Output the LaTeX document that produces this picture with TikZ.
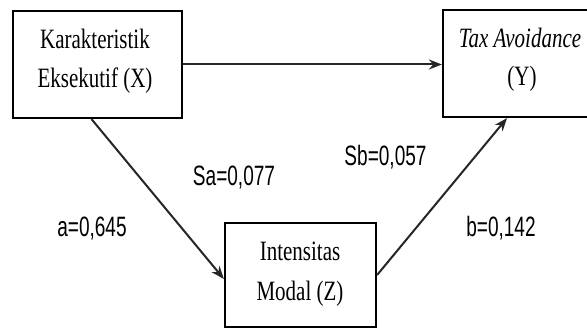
\documentclass[tikz,border=0pt]{standalone}
\usepackage{fontspec}
\setmainfont{Liberation Serif}[FakeStretch=0.75]
\newfontfamily\lblfont{Liberation Sans}[FakeStretch=0.68]
\usetikzlibrary{arrows.meta}
\tikzset{
  box/.style={draw=black, line width=2.2pt, rectangle, inner sep=0pt},
  boxtxt/.style={anchor=base, inner sep=0pt, font=\fontsize{28}{32}\selectfont},
  lbl/.style={anchor=base, inner sep=0pt, font=\lblfont\fontsize{28}{32}\selectfont},
  conn/.style={draw=black!85, line width=2pt, -{Stealth[length=13pt,width=10pt]}}
}
\begin{document}
\begin{tikzpicture}[x=1pt,y=-1pt]
\useasboundingbox (0,0) rectangle (587,329);
% boxes
\node[box, minimum width=169pt, minimum height=107pt] (X) at (97.5,64.5) {};
\node[box, minimum width=150pt, minimum height=107pt] (Y) at (518,63.5) {};
\node[box, minimum width=151pt, minimum height=104pt] (Z) at (300.5,275) {};
% box texts
\node[boxtxt] (X1) at (95,49) {Karakteristik};
\node[boxtxt] (X2) at (95,88) {Eksekutif (X)};
\node[boxtxt] (Y1) at (520,48) {\itshape Tax Avoidance};
\node[boxtxt] (Y2) at (522,86) {(Y)};
\node[boxtxt] (Z1) at (300,260) {Intensitas};
\node[boxtxt] (Z2) at (300,300) {Modal (Z)};
% connectors
\draw[conn] (X.east) -- (Y.west |- X.east);
\draw[conn] ([xshift=-6pt]X.south) -- ([yshift=-4pt]Z.west);
\draw[conn] (Z.east) -- ([xshift=-11pt]Y.south);
% labels
\node[lbl] (Sa) at (234,185) {Sa=0,077};
\node[lbl] (La) at (92,236) {a=0,645};
\node[lbl] (Sb) at (385.5,165) {Sb=0,057};
\node[lbl] (Lb) at (501,236) {b=0,142};
\end{tikzpicture}
\end{document}
